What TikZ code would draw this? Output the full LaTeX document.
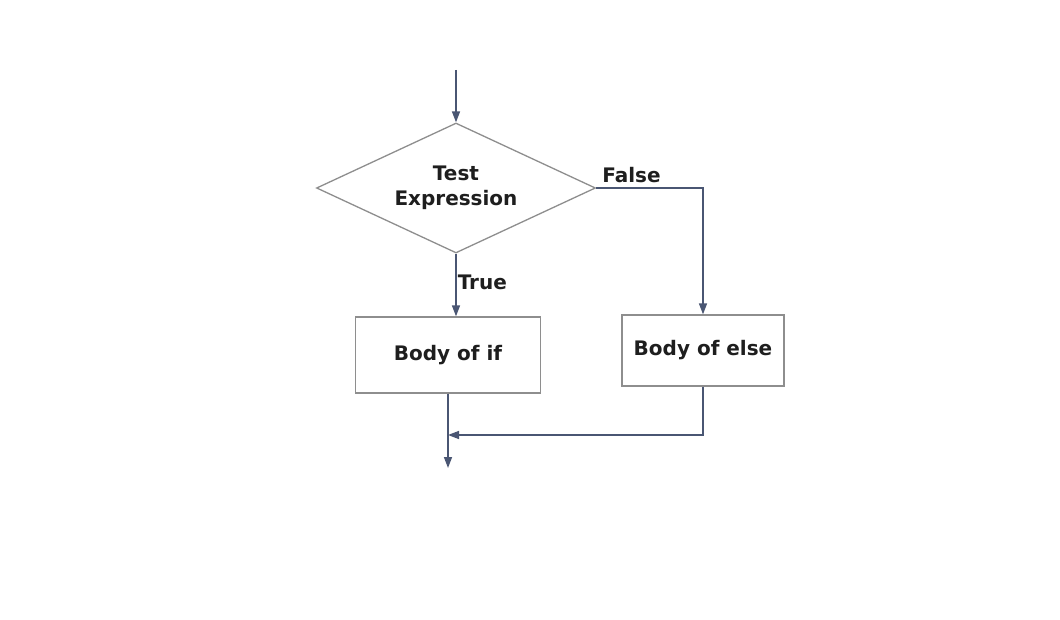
\documentclass[tikz,border=0pt]{standalone}
\usepackage{fontspec}
\setmainfont{DejaVu Sans}
\usetikzlibrary{shapes.geometric,arrows.meta}
\definecolor{flowline}{HTML}{4A5673}
\definecolor{boxline}{HTML}{8E8E8E}
\definecolor{txt}{HTML}{1E1E1E}
\tikzset{
  x=1pt,y=1pt,
  shapeline/.style={draw=boxline,line width=1.3pt},
  decision/.style={diamond,shapeline,aspect=2.15,minimum width=279pt,minimum height=130pt,inner sep=0pt,align=center,font=\fontsize{20}{25}\selectfont\bfseries,text=txt},
  procbox/.style={rectangle,shapeline,inner sep=0pt,align=center,font=\fontsize{20}{24}\selectfont\bfseries,text=txt},
  flow/.style={draw=flowline,line width=1.5pt,-{Triangle[length=11pt,width=8pt]}},
  lbl/.style={font=\fontsize{20}{24}\selectfont\bfseries,text=txt,inner sep=0pt}
}
\begin{document}
\begin{tikzpicture}
\useasboundingbox (0,0) rectangle (1060,619);
\fill[white] (0,0) rectangle (1060,619);
\coordinate (start) at (456,549);
\node[decision] (test) at (456,431) {Test\\Expression};
\node[procbox,minimum width=185pt,minimum height=76pt] (ifbody) at (448,264) {Body of if};
\node[procbox,minimum width=162pt,minimum height=71pt] (elsebody) at (703,268.5) {Body of else};
\coordinate (join) at (448,184);
\coordinate (finish) at (448,151);
\draw[flow] (start) -- (test.north);
\draw[flow] (test.south) -- (test.south |- ifbody.north) node[lbl,pos=0.45,anchor=west,xshift=1pt] (truelbl) {True};
\draw[flow] (test.east) -| (elsebody.north);
\node[lbl,anchor=south west] (falselbl) at ([xshift=6pt,yshift=5pt]test.east) {False};
\draw[flow] (ifbody.south) -- (finish);
\draw[flow] (elsebody.south) |- (join);
\end{tikzpicture}
\end{document}
